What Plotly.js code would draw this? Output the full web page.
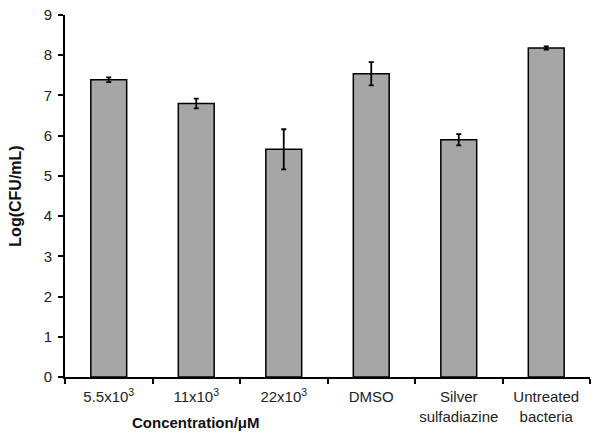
<!DOCTYPE html>
<html>
<head>
<meta charset="utf-8">
<script src="https://cdn.plot.ly/plotly-3.0.1.min.js"></script>
<style>html,body{margin:0;padding:0;background:#fff;}#chart{width:601px;height:441px;}</style>
</head>
<body>
<div id="chart"></div>
<script>
const categories = ["5.5x10<sup>3</sup>", "11x10<sup>3</sup>", "22x10<sup>3</sup>", "DMSO", "Silver<br>sulfadiazine", "Untreated<br>bacteria"];
const values = [7.39, 6.80, 5.66, 7.54, 5.90, 8.18];
const errors = [0.06, 0.12, 0.50, 0.29, 0.14, 0.04];
const yTicks = [0, 1, 2, 3, 4, 5, 6, 7, 8, 9];

const trace = {
  type: "bar",
  x: categories,
  y: values,
  marker: {color: "#a6a6a6", line: {color: "#000", width: 1.5}},
  error_y: {type: "data", array: errors, visible: true, color: "#000", thickness: 1.8, width: 2.5}
};

const layout = {
  width: 601, height: 441,
  margin: {l: 65, r: 11, t: 15, b: 64},
  paper_bgcolor: "#fff", plot_bgcolor: "#fff",
  bargap: 0.59,
  showlegend: false,
  font: {family: "Liberation Sans, Arial, sans-serif", color: "#222", size: 14},
  xaxis: {
    type: "category",
    automargin: false,
    tickangle: 0,
    showline: true, linecolor: "#000", linewidth: 2,
    ticks: "outside", tickson: "boundaries", ticklen: 5, tickcolor: "#000", tickwidth: 2,
    ticklabelstandoff: 5,
    showgrid: false, zeroline: false,
    tickfont: {size: 15, color: "#222"}
  },
  yaxis: {
    range: [0, 9],
    automargin: false,
    tickvals: yTicks,
    showline: true, linecolor: "#000", linewidth: 2,
    ticks: "outside", ticklen: 5, tickcolor: "#000", tickwidth: 2,
    ticklabelstandoff: 3,
    showgrid: false, zeroline: false,
    tickfont: {size: 15, color: "#222"},
    title: {text: "<b>Log(CFU/mL)</b>", font: {size: 16, color: "#111"}, standoff: 18}
  },
  annotations: [{
    text: "<b>Concentration/μM</b>",
    xref: "paper", yref: "paper",
    x: 0.25, y: -0.127,
    xanchor: "center", yanchor: "middle",
    showarrow: false,
    font: {size: 15, color: "#111"}
  }]
};

Plotly.newPlot("chart", [trace], layout, {displayModeBar: false, staticPlot: true});
</script>
</body>
</html>
